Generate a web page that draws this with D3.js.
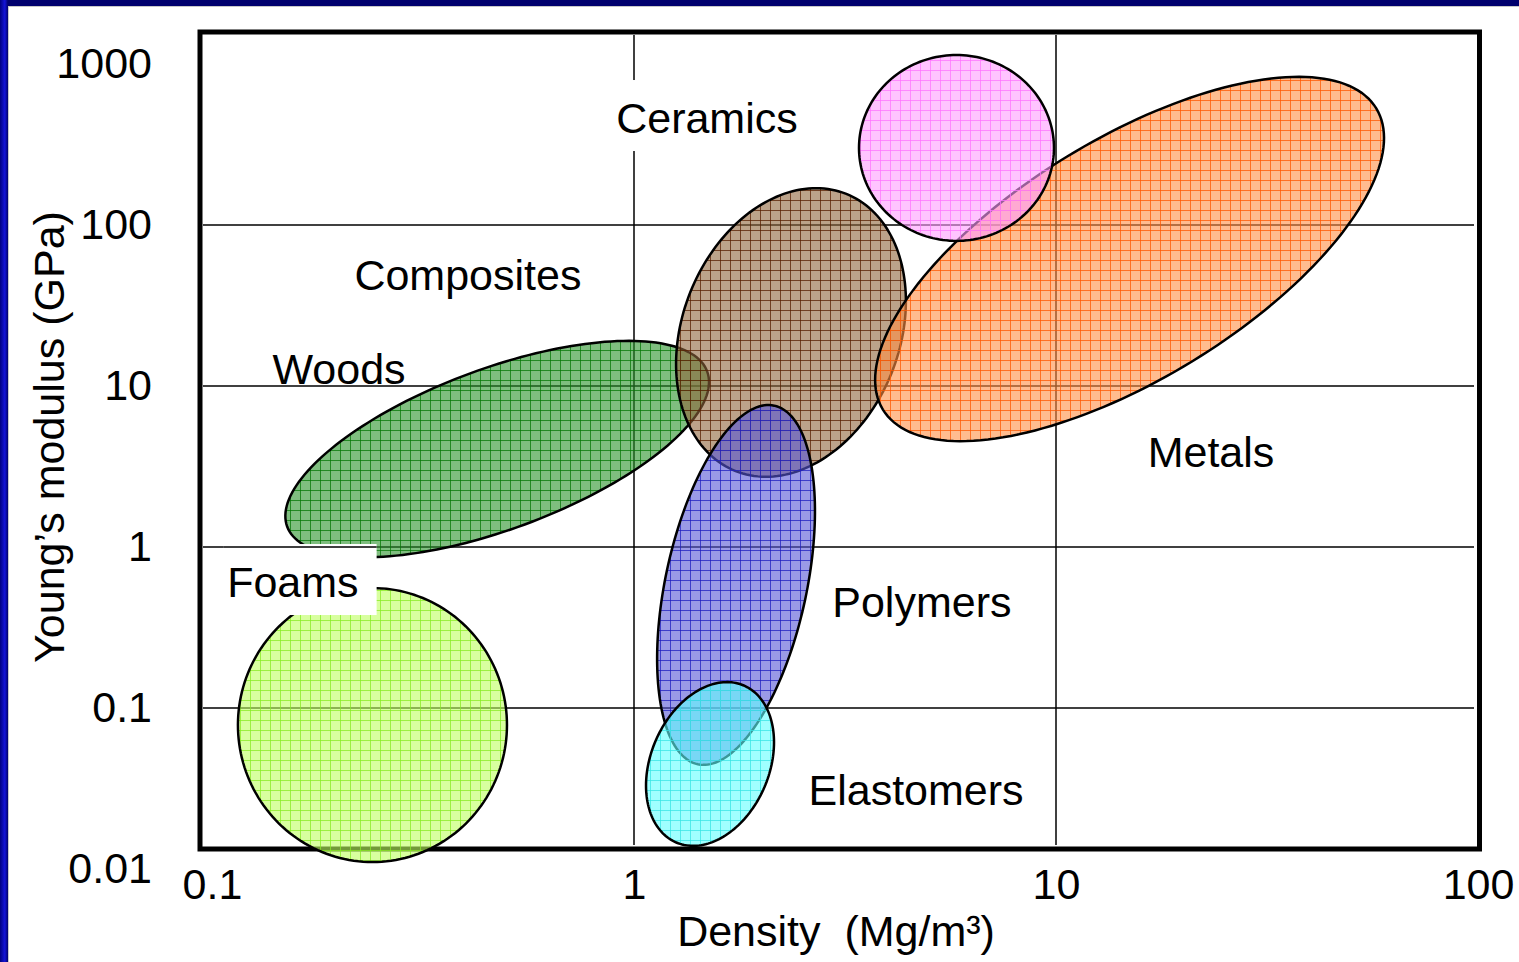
<!DOCTYPE html>
<html>
<head>
<meta charset="utf-8">
<style>
    body { margin: 0; background: #fff; }
    svg { display: block; font-family: "Liberation Sans", Arial, sans-serif; }
    .grid line { stroke: #000; stroke-width: 1.5; }
    .blob { stroke: #000; stroke-width: 2.5; }
    .label { font-size: 43px; fill: #000; }
    .title { font-size: 43px; fill: #000; }
</style>
</head>
<body>
<svg id="chart"></svg>
<script src="https://cdn.jsdelivr.net/npm/d3@7"></script>
<script>
    // material families, drawn back to front
    var materials = ['Foams', 'Woods', 'Composites', 'Metals', 'Ceramics', 'Polymers', 'Elastomers'];

    // each bubble is an ellipse in log-log space: centre plus the ends of its two semi-axes
    var centreDensity = [0.240, 0.474, 2.355, 14.94, 5.81, 1.745, 1.514];
    var centreModulus = [0.0784, 4.06, 21.5, 61.5, 301, 0.581, 0.0449];
    var axisADensity = [0.240, 1.491, 3.185, 57.4, 9.89, 2.149, 1.820];
    var axisAModulus = [0.556, 12.3, 156, 530, 301, 7.55, 0.138];
    var axisBDensity = [0.500, 0.551, 4.08, 21.0, 5.81, 2.544, 2.037];
    var axisBModulus = [0.0784, 1.38, 12.1, 14.2, 1137, 0.471, 0.0322];

    // where the name of each family sits (text baseline)
    var labelDensity = [0.1555, 0.200, 0.404, 23.3, 1.489, 4.81, 4.66];
    var labelModulus = [0.489, 10.3, 39.5, 3.14, 372.7, 0.367, 0.0250];
    var boxedLabels = ['Foams', 'Ceramics'];

    var fillColours = ['#beff5f', '#2a922a', '#8f663c', '#ff8f45', '#ff9dff', '#5757d5', '#61ffff'];
    var lineColours = ['#87eb23', '#057605', '#571f00', '#ff5700', '#ff73ff', '#1f1fbf', '#37e4e4'];

    var densityTicks = [0.1, 1, 10, 100];
    var modulusTicks = [0.01, 0.1, 1, 10, 100, 1000];

    var width = 1519;
    var height = 962;

    var svg = d3.select('#chart')
        .attr('width', width)
        .attr('height', height);

    var x = d3.scaleLog().domain([0.1, 100]).range([212, 1478]);
    var y = d3.scaleLog().domain([0.01, 1000]).range([869, 64]);

    var defs = svg.append('defs');

    // slide border on the left and top
    var grad = defs.append('linearGradient').attr('id', 'edge')
        .attr('x1', 0).attr('x2', 1).attr('y1', 0).attr('y2', 0);
    grad.append('stop').attr('offset', 0).attr('stop-color', '#000080');
    grad.append('stop').attr('offset', 0.6).attr('stop-color', '#1414d8');
    grad.append('stop').attr('offset', 1).attr('stop-color', '#00006a');

    // grid-paper hatching for the bubbles
    var pats = defs.selectAll('pattern')
        .data(materials)
        .join('pattern')
        .attr('id', function (d, i) { return 'hatch' + i; })
        .attr('patternUnits', 'userSpaceOnUse')
        .attr('width', 10)
        .attr('height', 10);
    pats.append('rect')
        .attr('width', 10)
        .attr('height', 10)
        .attr('fill', function (d, i) { return fillColours[i]; })
        .attr('fill-opacity', 0.6);
    pats.append('path')
        .attr('d', 'M0,0.5H10M0.5,0V10')
        .attr('fill', 'none')
        .attr('stroke', function (d, i) { return lineColours[i]; })
        .attr('stroke-opacity', 0.75)
        .attr('stroke-width', 1);

    svg.append('rect').attr('x', 0).attr('y', 0).attr('width', width).attr('height', 6).attr('fill', '#00006e');
    svg.append('rect').attr('x', 0).attr('y', 0).attr('width', 8).attr('height', height).attr('fill', 'url(#edge)');
    svg.append('line').attr('x1', 8).attr('x2', width).attr('y1', 6.5).attr('y2', 6.5).attr('stroke', '#c8c8c8');
    svg.append('line').attr('x1', 8.5).attr('x2', 8.5).attr('y1', 6).attr('y2', height).attr('stroke', '#c8c8c8');

    // plot frame
    svg.append('rect')
        .attr('x', 200)
        .attr('y', 32)
        .attr('width', 1279.5)
        .attr('height', 817)
        .attr('fill', 'none')
        .attr('stroke', '#000')
        .attr('stroke-width', 5);

    // grid lines at the inner decades
    var grid = svg.append('g').attr('class', 'grid');
    grid.selectAll('line.v')
        .data(densityTicks.slice(1, -1))
        .join('line')
        .attr('class', 'v')
        .attr('x1', x).attr('x2', x)
        .attr('y1', 35).attr('y2', 845);
    var hLines = modulusTicks.slice(1, -1);
    grid.selectAll('line.h')
        .data(hLines)
        .join('line')
        .attr('class', 'h')
        .attr('x1', 203).attr('x2', 1474)
        .attr('y1', y).attr('y2', y);

    function blobPath(i) {
        var cx = Math.log10(centreDensity[i]), cy = Math.log10(centreModulus[i]);
        var ax = Math.log10(axisADensity[i]) - cx, ay = Math.log10(axisAModulus[i]) - cy;
        var bx = Math.log10(axisBDensity[i]) - cx, by = Math.log10(axisBModulus[i]) - cy;
        var pts = d3.range(0, 2 * Math.PI, Math.PI / 90).map(function (t) {
            var c = Math.cos(t), s = Math.sin(t);
            return [x(Math.pow(10, cx + ax * c + bx * s)), y(Math.pow(10, cy + ay * c + by * s))];
        });
        return d3.line().curve(d3.curveLinearClosed)(pts);
    }

    svg.append('g')
        .selectAll('path')
        .data(materials)
        .join('path')
        .attr('class', 'blob')
        .attr('d', function (d, i) { return blobPath(i); })
        .attr('fill', function (d, i) { return 'url(#hatch' + i + ')'; });

    // labels
    var labels = svg.append('g')
        .selectAll('text')
        .data(materials)
        .join('text')
        .attr('class', 'label')
        .attr('text-anchor', 'middle')
        .attr('x', function (d, i) { return x(labelDensity[i]); })
        .attr('y', function (d, i) { return y(labelModulus[i]); })
        .text(function (d) { return d; });

    // a couple of the labels sit on white boxes that hide what is behind them
    var boxes = [];
    labels.each(function (d) {
        if (boxedLabels.indexOf(d) < 0) return;
        var b = this.getBBox();
        boxes.push({ x: b.x - 4, y: b.y - 14, w: b.width + 22, h: b.height + 23 });
    });
    var boxLayer = svg.insert('g', 'g:last-of-type');
    boxLayer.selectAll('rect')
        .data(boxes)
        .join('rect')
        .attr('x', function (d) { return d.x; })
        .attr('y', function (d) { return d.y; })
        .attr('width', function (d) { return d.w; })
        .attr('height', function (d) { return d.h; })
        .attr('fill', '#fff');

    // the horizontal rules still run across those boxes
    var clip = defs.append('clipPath').attr('id', 'boxclip');
    clip.selectAll('rect')
        .data(boxes)
        .join('rect')
        .attr('x', function (d) { return d.x; })
        .attr('y', function (d) { return d.y; })
        .attr('width', function (d) { return d.w; })
        .attr('height', function (d) { return d.h; });
    boxLayer.append('g')
        .attr('class', 'grid')
        .attr('clip-path', 'url(#boxclip)')
        .selectAll('line')
        .data(hLines)
        .join('line')
        .attr('x1', 203).attr('x2', 1474)
        .attr('y1', y).attr('y2', y);

    // axes
    var yAxis = svg.append('g')
        .attr('transform', 'translate(152,0)')
        .call(d3.axisLeft(y).tickValues(modulusTicks).tickFormat(d3.format('~g')).tickSize(0).tickPadding(0));
    var xAxis = svg.append('g')
        .attr('transform', 'translate(0,859)')
        .call(d3.axisBottom(x).tickValues(densityTicks).tickFormat(d3.format('~g')).tickSize(0).tickPadding(9));
    [yAxis, xAxis].forEach(function (a) {
        a.select('.domain').remove();
        a.attr('font-size', 43).attr('font-family', '"Liberation Sans", Arial, sans-serif');
        a.selectAll('text').attr('fill', '#000');
    });

    svg.append('text')
        .attr('class', 'title')
        .attr('text-anchor', 'middle')
        .attr('x', 836)
        .attr('y', 946)
        .style('white-space', 'pre')
        .text('Density  (Mg/m\u00b3)');

    svg.append('text')
        .attr('class', 'title')
        .attr('text-anchor', 'middle')
        .attr('transform', 'translate(64,437) rotate(-90)')
        .text('Young\u2019s modulus (GPa)');
</script>
</body>
</html>
